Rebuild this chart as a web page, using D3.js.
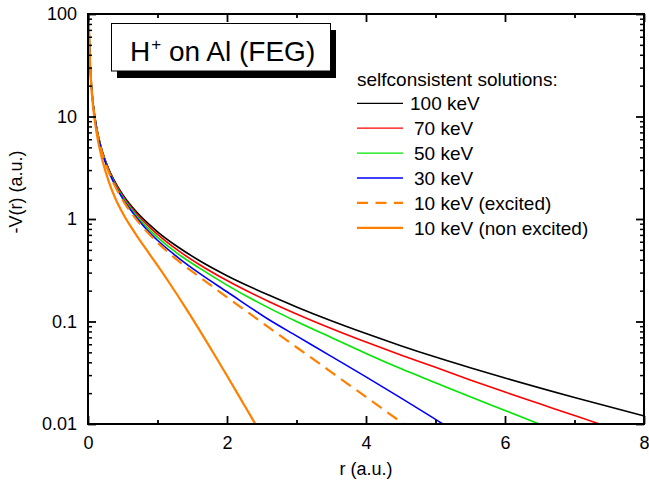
<!DOCTYPE html>
<html>
<head>
<meta charset="utf-8">
<script src="https://cdn.jsdelivr.net/npm/d3@7"></script>
<style>
  html, body { margin: 0; padding: 0; background: #fff; }
  svg { display: block; }
  text { font-family: "Liberation Sans", Arial, Helvetica, sans-serif; fill: #000; }
</style>
</head>
<body>
<svg id="chart" width="649" height="492"></svg>
<script>
// ---------------- data ----------------
const xTickValues = [0, 2, 4, 6, 8];
const xTickLabels = ["0", "2", "4", "6", "8"];
const xMinorTicks = [1, 3, 5, 7];
const yTickValues = [0.01, 0.1, 1, 10, 100];
const yTickLabels = ["0.01", "0.1", "1", "10", "100"];

const seriesNames = ["100 keV", "70 keV", "50 keV", "30 keV", "10 keV (excited)", "10 keV (non excited)"];
const seriesColors = ["#000000", "#ff0000", "#00e600", "#0000ff", "#ff8000", "#ff8000"];

const r_100keV = [0.01,0.02,0.03,0.05,0.07,0.1,0.15,0.2,0.3,0.4,0.5,0.7,0.9,1.0,1.3,1.6,2.0,2.6,3.0,3.5,4.0,4.5,5.0,5.5,6.0,7.0,8.0];
const v_100keV = [99,49.4,33.0,19.7,14.0,9.7,6.4,4.72,3.05,2.23,1.73,1.17,0.86,0.75,0.53,0.394,0.28,0.181,0.1387,0.1016,0.0762,0.0581,0.045,0.0354,0.0281,0.01813,0.01198];

const r_70keV = [0.01,0.02,0.03,0.05,0.07,0.1,0.15,0.2,0.3,0.4,0.5,0.7,0.9,1.0,1.3,1.6,2.0,2.6,3.0,3.5,4.0,4.5,5.0,5.5,6.0,6.5,7.0,7.34,7.4];
const v_70keV = [99,49.3,33.0,19.7,13.9,9.66,6.33,4.67,3.0,2.18,1.68,1.12,0.815,0.708,0.491,0.36,0.2508,0.1569,0.1185,0.0855,0.063,0.0471,0.0357,0.0269,0.0205,0.01574,0.01208,0.0101,0.0098];

const r_50keV = [0.01,0.02,0.03,0.05,0.07,0.1,0.15,0.2,0.3,0.4,0.5,0.7,0.9,1.0,1.3,1.6,2.0,2.6,3.0,3.5,4.0,4.5,5.0,5.5,6.0,6.5];
const v_50keV = [99,49.2,32.9,19.6,13.9,9.6,6.29,4.62,2.95,2.12,1.63,1.07,0.765,0.663,0.455,0.333,0.2265,0.1358,0.100,0.0698,0.0488,0.03475,0.0253,0.01845,0.01355,0.00995];

const r_30keV = [0.01,0.02,0.03,0.05,0.07,0.1,0.15,0.2,0.3,0.4,0.5,0.7,0.9,1.0,1.3,1.6,2.0,2.6,3.0,3.5,4.0,4.5,5.0,5.1,5.15];
const v_30keV = [99,49.0,32.7,19.5,13.8,9.5,6.2,4.55,2.9,2.07,1.58,1.03,0.72,0.62,0.418,0.296,0.195,0.1047,0.0724,0.0457,0.0288,0.018,0.0111,0.01007,0.0096];

const r_10keVexc = [0.01,0.02,0.03,0.05,0.07,0.1,0.15,0.2,0.3,0.4,0.5,0.7,0.9,1.0,1.3,1.6,2.0,2.6,3.0,3.5,4.0,4.5,4.6];
const v_10keVexc = [99,49.0,32.7,19.5,13.8,9.45,6.15,4.5,2.85,2.02,1.53,0.98,0.69,0.59,0.39,0.2735,0.1726,0.0877,0.0561,0.0321,0.01837,0.0105,0.0094];

const r_10keVnon = [0.01,0.02,0.03,0.05,0.07,0.1,0.15,0.2,0.3,0.4,0.5,0.6,0.7,0.8,0.9,1.0,1.2,1.4,1.6,1.8,2.0,2.2,2.4,2.45];
const v_10keVnon = [99,48.7,32.1,18.8,13.1,8.8,5.53,3.9,2.3,1.55,1.14,0.875,0.69,0.55,0.44,0.352,0.222,0.1375,0.0834,0.0498,0.0296,0.0174,0.0102,0.0089];

const seriesR = [r_100keV, r_70keV, r_50keV, r_30keV, r_10keVexc, r_10keVnon];
const seriesV = [v_100keV, v_70keV, v_50keV, v_30keV, v_10keVexc, v_10keVnon];
const seriesDashed = [false, false, false, false, true, false];

const titleMain = "H";
const titleSup = "+";
const titleRest = " on Al (FEG)";
const legendHeader = "selfconsistent solutions:";
const xAxisTitle = "r (a.u.)";
const yAxisTitle = "-V(r) (a.u.)";

// ---------------- layout ----------------
const L = 88, R = 644, T = 14, B = 424;
const svg = d3.select("#chart");

const x = d3.scaleLinear().domain([0, 8]).range([L, R]);
const y = d3.scaleLog().domain([0.01, 100]).range([B, T]);

const yMinor = [];
[0.01, 0.1, 1, 10].forEach(d => { for (let m = 2; m <= 9; m++) yMinor.push(+(d * m).toPrecision(3)); });

// clip
svg.append("defs").append("clipPath").attr("id", "clip")
  .append("rect").attr("x", L).attr("y", T).attr("width", R - L).attr("height", B - T);

// curves
const line = d3.line().x(d => x(d[0])).y(d => y(d[1])).curve(d3.curveMonotoneX);
const curveG = svg.append("g").attr("clip-path", "url(#clip)");
seriesNames.forEach((name, i) => {
  const pts = seriesR[i].map((r, j) => [r, seriesV[i][j]]);
  curveG.append("path")
    .datum(pts)
    .attr("d", line)
    .attr("fill", "none")
    .attr("stroke", seriesColors[i])
    .attr("stroke-width", i >= 4 ? 2.2 : 1.6)
    .attr("stroke-dasharray", seriesDashed[i] ? "12,7" : null);
});

// axes helpers
function styleAxis(g, w) {
  g.select(".domain").remove();
  g.selectAll(".tick line").attr("stroke", "#000").attr("stroke-width", w);
  g.selectAll(".tick text").style("font-size", "18px").attr("fill", "#000");
}

// bottom
const gb = svg.append("g").attr("transform", `translate(0,${B})`)
  .call(d3.axisBottom(x).tickValues(xTickValues).tickFormat((d, i) => xTickLabels[i]).tickSizeInner(-8).tickSizeOuter(0).tickPadding(12));
styleAxis(gb, 1.8);
const gbm = svg.append("g").attr("transform", `translate(0,${B})`)
  .call(d3.axisBottom(x).tickValues(xMinorTicks).tickFormat("").tickSizeInner(-4).tickSizeOuter(0));
styleAxis(gbm, 1.8);
// top
const gt = svg.append("g").attr("transform", `translate(0,${T})`)
  .call(d3.axisTop(x).tickValues(xTickValues).tickFormat("").tickSizeInner(-8).tickSizeOuter(0));
styleAxis(gt, 1.8);
const gtm = svg.append("g").attr("transform", `translate(0,${T})`)
  .call(d3.axisTop(x).tickValues(xMinorTicks).tickFormat("").tickSizeInner(-4).tickSizeOuter(0));
styleAxis(gtm, 1.8);
// left
const gl = svg.append("g").attr("transform", `translate(${L},0)`)
  .call(d3.axisLeft(y).tickValues(yTickValues).tickFormat((d, i) => yTickLabels[i]).tickSizeInner(-8).tickSizeOuter(0).tickPadding(11));
styleAxis(gl, 1.8);
const glm = svg.append("g").attr("transform", `translate(${L},0)`)
  .call(d3.axisLeft(y).tickValues(yMinor).tickFormat("").tickSizeInner(-4).tickSizeOuter(0));
styleAxis(glm, 1.5);
// right
const gr = svg.append("g").attr("transform", `translate(${R},0)`)
  .call(d3.axisRight(y).tickValues(yTickValues).tickFormat("").tickSizeInner(-8).tickSizeOuter(0));
styleAxis(gr, 1.8);
const grm = svg.append("g").attr("transform", `translate(${R},0)`)
  .call(d3.axisRight(y).tickValues(yMinor).tickFormat("").tickSizeInner(-4).tickSizeOuter(0));
styleAxis(grm, 1.5);

// frame
svg.append("rect").attr("x", L).attr("y", T).attr("width", R - L).attr("height", B - T)
  .attr("fill", "none").attr("stroke", "#000").attr("stroke-width", 2);

// axis titles
svg.append("text").attr("x", (L + R) / 2).attr("y", 475).attr("text-anchor", "middle")
  .style("font-size", "18px").text(xAxisTitle);
svg.append("text").attr("transform", "translate(22,192) rotate(-90)").attr("text-anchor", "middle")
  .style("font-size", "18px").text(yAxisTitle);

// title box
svg.append("rect").attr("x", 117).attr("y", 30).attr("width", 219).attr("height", 48).attr("fill", "#000");
svg.append("rect").attr("x", 111.5).attr("y", 23.5).attr("width", 219).attr("height", 47.5)
  .attr("fill", "#fff").attr("stroke", "#000").attr("stroke-width", 1);
const tt = svg.append("text").attr("x", 130).attr("y", 61).style("font-size", "28px");
tt.append("tspan").text(titleMain);
tt.append("tspan").attr("dx", 1).attr("dy", -11).style("font-size", "17px").text(titleSup);
tt.append("tspan").attr("dy", 11).style("font-size", "28px").text(titleRest);

// legend
svg.append("text").attr("x", 357).attr("y", 86).style("font-size", "19px").text(legendHeader);
seriesNames.forEach((name, i) => {
  const ly = 103.3 + i * 24.9;
  svg.append("line").attr("x1", 357).attr("x2", 403).attr("y1", ly).attr("y2", ly)
    .attr("stroke", seriesColors[i]).attr("stroke-width", i >= 4 ? 2.2 : 1.3)
    .attr("stroke-dasharray", seriesDashed[i] ? "11,7.5" : null);
  svg.append("text").attr("x", i === 0 ? 410 : 414).attr("y", ly + 7).style("font-size", "19px").text(name);
});
</script>
</body>
</html>
